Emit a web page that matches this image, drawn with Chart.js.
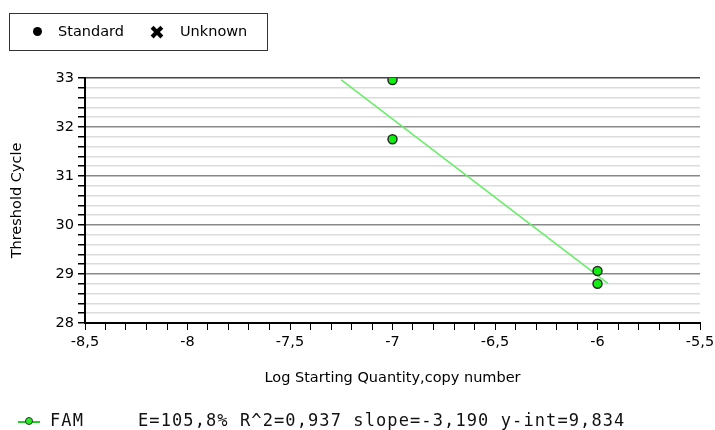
<!DOCTYPE html>
<html>
<head>
<meta charset="utf-8">
<script src="https://cdn.jsdelivr.net/npm/chart.js@4"></script>
<style>
  body { margin: 0; background: #fff; width: 715px; height: 430px; overflow: hidden; position: relative; font-family: "DejaVu Sans", sans-serif; }
  #wrap { position: absolute; left: 0; top: 0; width: 715px; height: 430px; }
  .top-legend { position: absolute; left: 9px; top: 13px; width: 257px; height: 36px; border: 1px solid #333; font-size: 14.5px; line-height: 17px; color: #000; }
  .top-legend span { position: absolute; top: 9px; }
  .dot { position: absolute; left: 23px; top: 13px; width: 9px; height: 9px; border-radius: 50%; background: #000; }
  .cross { position: absolute; left: 139px; top: 7px; font-size: 19px; font-weight: bold; line-height: 22px; }
  .fam { position: absolute; top: 410px; font-family: "DejaVu Sans Mono", monospace; font-size: 17px; line-height: 20px; letter-spacing: 1.1px; color: #111; }
  .fam-line { position: absolute; left: 18px; top: 421px; width: 22px; height: 2px; background: #22cc22; }
  .fam-dot { position: absolute; left: 25px; top: 417px; width: 8px; height: 8px; border-radius: 50%; background: #22ee22; border: 1.5px solid #333; box-sizing: border-box; }
</style>
</head>
<body>
<div id="wrap"><canvas id="stdCurve" width="715" height="430"></canvas></div>
<div class="top-legend">
  <div class="dot"></div><span style="left:48px">Standard</span>
  <div class="cross">&#10006;</div><span style="left:170px">Unknown</span>
</div>
<div class="fam-line"></div><div class="fam-dot"></div>
<div class="fam" style="left:50px">FAM</div>
<div class="fam" style="left:138px">E=105,8% R^2=0,937 slope=-3,190 y-int=9,834</div>
<script>
// standard points
const logQty = [-7, -7, -6, -6];
const thresholdCycle = [32.96, 31.75, 29.06, 28.80];

// regression line end points
const fitX = [-7.25, -5.95];
const fitY = [32.96, 28.81];

const xLabels = ['-8,5', '-8', '-7,5', '-7', '-6,5', '-6', '-5,5'];
const yLabels = ['28', '29', '30', '31', '32', '33'];

const isWhole = (v, step) => Math.abs(v / step - Math.round(v / step)) < 1e-6;

const pts = logQty.map((x, i) => ({ x: x, y: thresholdCycle[i] }));
const fit = fitX.map((x, i) => ({ x: x, y: fitY[i] }));

const axisFont = { family: 'DejaVu Sans', size: 14.5 };

const ctx = document.getElementById('stdCurve').getContext('2d');
new Chart(ctx, {
  type: 'scatter',
  data: {
    datasets: [
      {
        label: 'FAM fit',
        data: fit,
        showLine: true,
        borderColor: '#66ee66',
        borderWidth: 1.5,
        pointRadius: 0,
        order: 2
      },
      {
        label: 'Standard',
        data: pts,
        backgroundColor: '#11ee11',
        borderColor: '#2a2a2a',
        borderWidth: 1.5,
        pointRadius: 4.5,
        order: 1
      }
    ]
  },
  options: {
    responsive: false,
    animation: false,
    layout: { padding: { top: 78, right: 15, bottom: 39, left: 0 } },
    plugins: { legend: { display: false }, tooltip: { enabled: false } },
    scales: {
      x: {
        type: 'linear',
        min: -8.5,
        max: -5.5,
        afterFit: scale => {
          scale.height = 68;
          scale.paddingRight = 0; // let the last label hang into the margin
        },
        afterBuildTicks: scale => {
          const t = [];
          for (let i = 0; i <= 30; i++) t.push({ value: -8.5 + i * 0.1 });
          scale.ticks = t;
        },
        ticks: {
          autoSkip: false,
          maxRotation: 0,
          padding: 4,
          color: '#000',
          font: axisFont,
          callback: v => {
            if (!isWhole(v, 0.5)) return '';
            return xLabels[Math.round((v + 8.5) / 0.5)];
          }
        },
        grid: { drawOnChartArea: false, tickLength: 7, tickColor: '#000', tickWidth: 1 },
        border: { color: '#000', width: 2 },
        title: {
          display: true,
          text: 'Log Starting Quantity,copy number',
          color: '#000',
          font: axisFont,
          padding: { top: 4, bottom: 4 }
        }
      },
      y: {
        min: 28,
        max: 33,
        afterFit: scale => { scale.width = 85; },
        afterBuildTicks: scale => {
          const t = [];
          for (let i = 0; i <= 25; i++) t.push({ value: 28 + i * 0.2 });
          scale.ticks = t;
        },
        ticks: {
          autoSkip: false,
          padding: 4,
          color: '#000',
          font: axisFont,
          callback: v => isWhole(v, 1) ? yLabels[Math.round(v) - 28] : ''
        },
        grid: {
          tickLength: 7,
          tickColor: '#000',
          lineWidth: 1.5,
          color: c => (c.tick && isWhole(c.tick.value, 1)) ? (c.tick.value === 33 ? '#444' : '#888') : '#dcdcdc'
        },
        border: { color: '#000', width: 2 },
        title: {
          display: true,
          text: 'Threshold Cycle',
          color: '#000',
          font: axisFont,
          padding: { top: 9, bottom: 4 }
        }
      }
    }
  }
});
</script>
</body>
</html>
